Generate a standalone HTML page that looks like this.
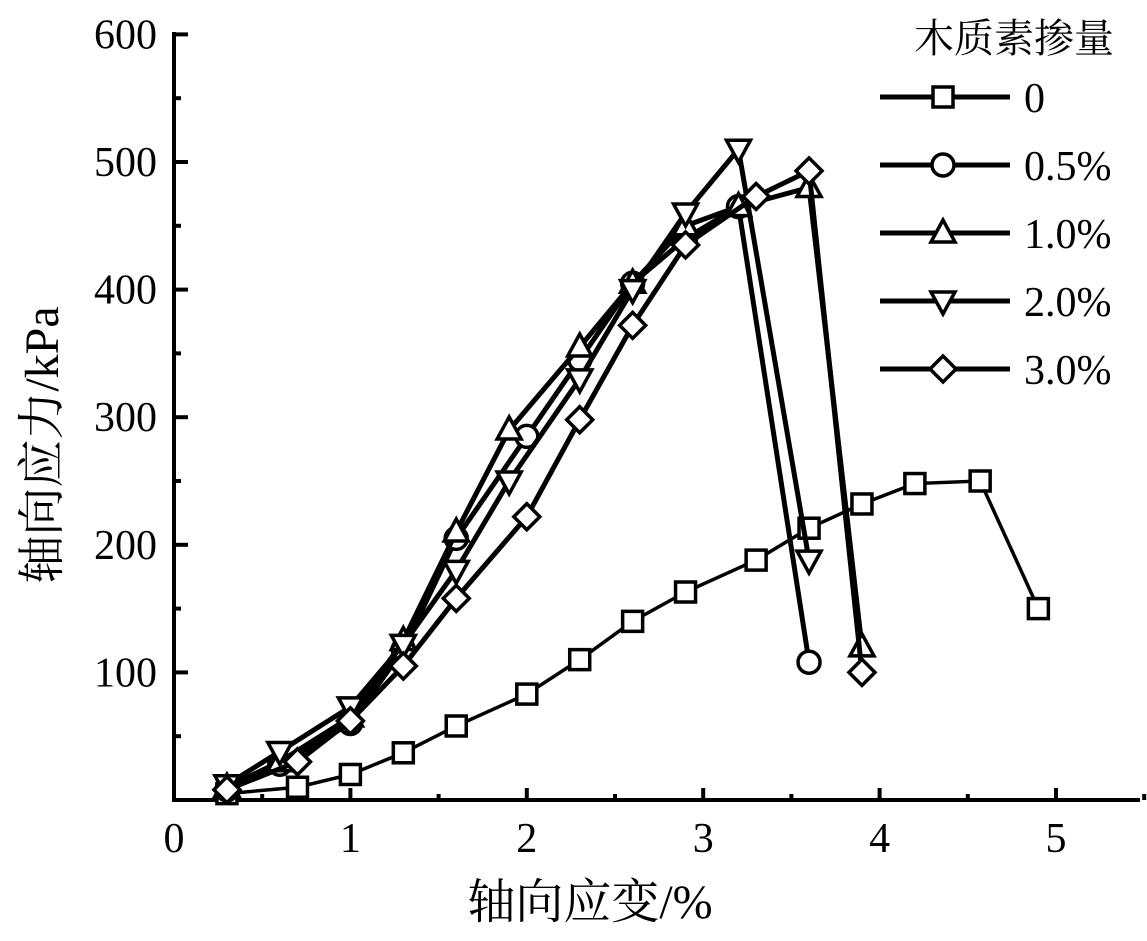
<!DOCTYPE html>
<html><head><meta charset="utf-8"><style>
body{margin:0;background:#fff}
svg text{font-family:"Liberation Serif","Noto Serif CJK SC",serif;fill:#000}
</style></head><body>
<svg id="chart" width="1147" height="936" xmlns="http://www.w3.org/2000/svg"></svg>
<script>
const xTicks=[0,1,2,3,4,5];
const yTicks=[100,200,300,400,500,600];
const seriesNames=["0","0.5%","1.0%","2.0%","3.0%"];
const markers=["square","circle","up","down","diamond"];
const x0=[0.3,0.7,1.0,1.3,1.6,2.0,2.3,2.6,2.9,3.3,3.6,3.9,4.2,4.57,4.9];
const y0=[5,10,20,37,58,83,110,140,163,188,213,232,248,250,150];
const x1=[0.3,0.6,1.0,1.3,1.6,2.0,2.3,2.6,2.9,3.2,3.6];
const y1=[8,28,60,118,205,285,345,405,440,465,108];
const x2=[0.3,0.6,1.0,1.3,1.6,1.9,2.3,2.6,2.9,3.2,3.6,3.9];
const y2=[10,30,65,125,210,290,355,405,450,465,480,120];
const x3=[0.3,0.6,1.0,1.3,1.6,1.9,2.3,2.6,2.9,3.2,3.6];
const y3=[12,38,73,122,180,250,330,400,460,510,188];
const x4=[0.3,0.7,1.0,1.3,1.6,2.0,2.3,2.6,2.9,3.3,3.6,3.9];
const y4=[8,30,62,105,158,222,298,372,435,473,493,100];
const XS=[x0,x1,x2,x3,x4],YS=[y0,y1,y2,y3,y4];

const svg=document.getElementById('chart');
const NS="http://www.w3.org/2000/svg";
const sx=v=>174+v*176.4, sy=v=>800-v*1.276;
function mk(tag,a,p){const e=document.createElementNS(NS,tag);for(const k in a)e.setAttribute(k,a[k]);(p||svg).appendChild(e);return e;}
function txt(s,a,p){const e=mk('text',a,p);e.textContent=s;return e;}

const axes=mk('g',{stroke:'#000','stroke-width':4});


mk('line',{x1:174,y1:32,x2:174,y2:802},axes);
mk('line',{x1:172,y1:800,x2:1140,y2:800},axes);
xTicks.forEach(t=>{mk('line',{x1:sx(t),y1:800,x2:sx(t),y2:788},axes);mk('line',{x1:sx(t+0.5),y1:800,x2:sx(t+0.5),y2:794},axes);
 const l=txt(t,{x:sx(t),y:852,'font-size':42,'text-anchor':'middle'});
 
 });
yTicks.forEach(t=>{mk('line',{x1:174,y1:sy(t),x2:188,y2:sy(t)},axes);mk('line',{x1:174,y1:sy(t-50),x2:181,y2:sy(t-50)},axes);
 const l=txt(t,{x:157,y:sy(t)+14,'font-size':42,'text-anchor':'end'});
 
 });
const xt=txt('轴向应变/%',{x:590,y:918,'font-size':48,'text-anchor':'middle'});


const yt=txt('轴向应力/kPa',{x:0,y:0,'font-size':48,'text-anchor':'middle',transform:'translate(58,445) rotate(-90)'});



function marker(type,x,y,p){
 const st={fill:'#fff',stroke:'#000','stroke-width':3.5};
 if(type==='square')mk('rect',Object.assign({x:x-10,y:y-10,width:20,height:20},st),p);
 else if(type==='circle')mk('circle',Object.assign({cx:x,cy:y,r:11},st),p);
 else if(type==='up')mk('polygon',Object.assign({points:`${x},${y-13} ${x-12},${y+9} ${x+12},${y+9}`},st),p);
 else if(type==='down')mk('polygon',Object.assign({points:`${x},${y+13} ${x-12},${y-9} ${x+12},${y-9}`},st),p);
 else mk('polygon',Object.assign({points:`${x},${y-13} ${x+13},${y} ${x},${y+13} ${x-13},${y}`},st),p);
}
for(let s=0;s<5;s++){
 const g=mk('g',{});
 
 
 const pts=XS[s].map((v,i)=>sx(v)+','+sy(YS[s][i])).join(' ');
 mk('polyline',{points:pts,fill:'none',stroke:'#000','stroke-width':s===0?3.5:5},g);
 XS[s].forEach((v,i)=>marker(markers[s],sx(v),sy(YS[s][i]),g));
}
const lg=mk('g',{});


txt('木质素掺量',{x:1114,y:52,'font-size':40,'text-anchor':'end'},lg);
seriesNames.forEach((n,i)=>{
 const y=97+i*68;
 const e=mk('g',{},lg);
 
 
 mk('line',{x1:880,y1:y,x2:1010,y2:y,stroke:'#000','stroke-width':5},e);
 marker(markers[i],943,y,e);
 txt(n,{x:1024,y:y+15,'font-size':42},e);
});
</script>
</body></html>
